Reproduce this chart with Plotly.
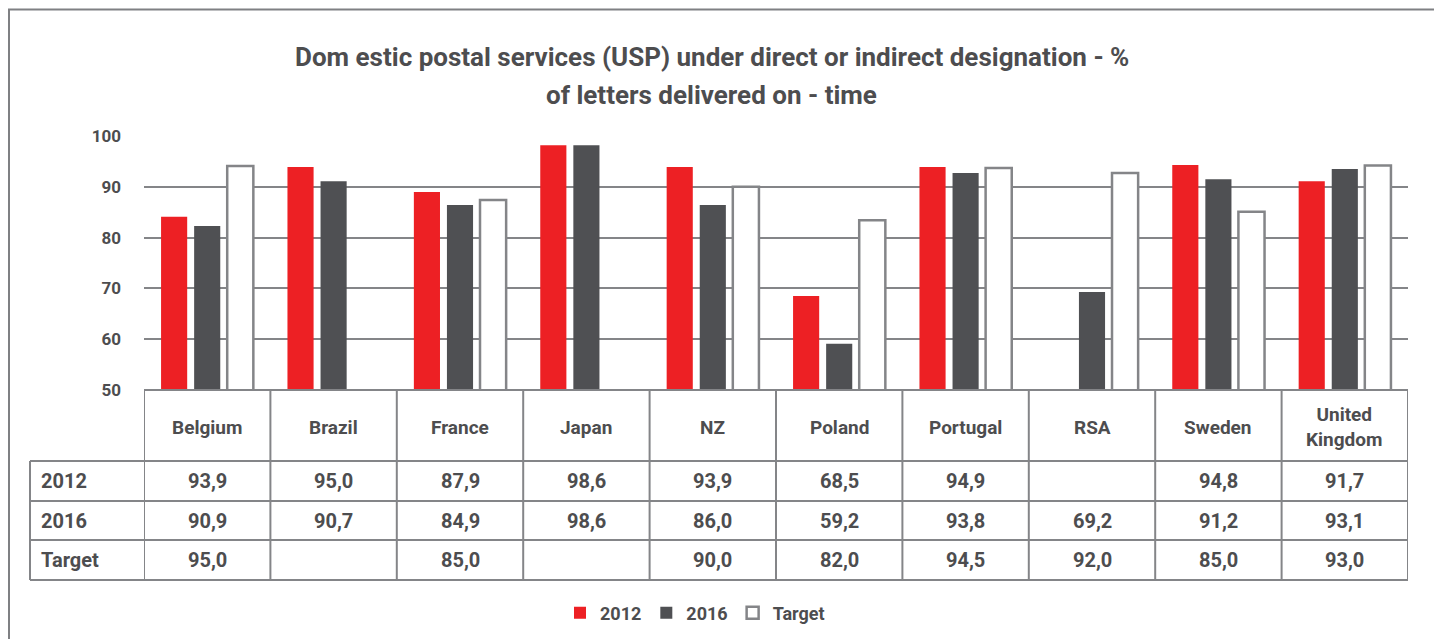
import plotly.graph_objects as go

# page body has an 8px margin: the figure is placed at (8, 8) in the window
OX, OY = 8, 8
W, H = 1434, 631

categories = ["Belgium", "Brazil", "France", "Japan", "NZ", "Poland",
              "Portugal", "RSA", "Sweden", "United Kingdom"]
header_labels = ["Belgium", "Brazil", "France", "Japan", "NZ", "Poland",
                 "Portugal", "RSA", "Sweden", "United<br>Kingdom"]

# bar heights as drawn in the chart
bar_2012 = [84.1, 93.9, 89.0, 98.2, 93.9, 68.5, 93.9, None, 94.3, 91.1]
bar_2016 = [82.3, 91.1, 86.4, 98.2, 86.4, 59.1, 92.7, 69.3, 91.5, 93.5]
bar_target = [94.1, None, 87.4, None, 90.0, 83.4, 93.7, 92.7, 85.1, 94.2]

# data table values
row_labels = ["2012", "2016", "Target"]
table_2012 = ["93,9", "95,0", "87,9", "98,6", "93,9", "68,5", "94,9", "", "94,8", "91,7"]
table_2016 = ["90,9", "90,7", "84,9", "98,6", "86,0", "59,2", "93,8", "69,2", "91,2", "93,1"]
table_target = ["95,0", "", "85,0", "", "90,0", "82,0", "94,5", "92,0", "85,0", "93,0"]

y_ticks = [50, 60, 70, 80, 90, 100]

FONT = "Roboto, Liberation Sans, sans-serif"
TXT = "#4d4d4f"
RED = "#ed2024"
DARK = "#4f5053"
GRID = "#848588"


def px(x):
    return (x - OX) / W


def py(y):
    return 1 - (y - OY) / H


fig = go.Figure()
fig.add_trace(go.Bar(name="2012", x=categories, y=bar_2012,
                     marker=dict(color=RED, line=dict(width=0))))
fig.add_trace(go.Bar(name="2016", x=categories, y=bar_2016,
                     marker=dict(color=DARK, line=dict(width=0))))
fig.add_trace(go.Bar(name="Target", x=categories, y=bar_target,
                     marker=dict(color="white", line=dict(color=GRID, width=2.5))))

shapes = []
# outer frame
shapes.append(dict(type="rect", xref="paper", yref="paper",
                   x0=px(9), x1=px(1435), y0=py(660), y1=py(9.5),
                   line=dict(color="#7f8083", width=2), fillcolor="rgba(0,0,0,0)"))

# table grid
rows_y = [390, 461, 501, 540, 580]
line_style = dict(color=GRID, width=2)
n = len(categories)
for i, yy in enumerate(rows_y):
    shapes.append(dict(type="line", xref="x", yref="paper",
                       x0=-0.5, x1=n - 0.5, y0=py(yy), y1=py(yy), line=line_style))
    if i > 0:
        shapes.append(dict(type="line", xref="paper", yref="paper",
                           x0=px(30), x1=px(145), y0=py(yy), y1=py(yy),
                           line=line_style))
for k in range(n + 1):
    shapes.append(dict(type="line", xref="x", yref="paper",
                       x0=k - 0.5, x1=k - 0.5, y0=py(390), y1=py(580),
                       line=line_style))
shapes.append(dict(type="line", xref="paper", yref="paper",
                   x0=px(30), x1=px(30), y0=py(461), y1=py(580), line=line_style))

annotations = []
title_font = dict(family=FONT, size=26, color=TXT, weight=700)
annotations.append(dict(xref="paper", yref="paper", x=px(712), y=py(57),
                        text="Dom estic postal services (USP) under direct or indirect designation - %",
                        showarrow=False, xanchor="center", yanchor="middle",
                        font=title_font))
annotations.append(dict(xref="paper", yref="paper", x=px(711), y=py(95),
                        text="of letters delivered on - time",
                        showarrow=False, xanchor="center", yanchor="middle",
                        font=title_font))

head_font = dict(family=FONT, size=19, color=TXT, weight=700)
cell_font = dict(family=FONT, size=20, color=TXT, weight=700)
for cat, lab in zip(categories, header_labels):
    annotations.append(dict(xref="x", yref="paper", x=cat, y=py(427), text=lab,
                            showarrow=False, xanchor="center", yanchor="middle",
                            font=head_font))
row_centers = [481, 521, 560]
for rl, vals, yc in zip(row_labels, [table_2012, table_2016, table_target], row_centers):
    annotations.append(dict(xref="paper", yref="paper", x=px(39), y=py(yc), text=rl,
                            showarrow=False, xanchor="left", yanchor="middle",
                            font=cell_font))
    for cat, v in zip(categories, vals):
        if v:
            annotations.append(dict(xref="x", yref="paper", x=cat, y=py(yc), text=v,
                                    showarrow=False, xanchor="center", yanchor="middle",
                                    font=cell_font))

fig.update_layout(
    width=W, height=H,
    margin=dict(l=0, r=0, t=0, b=0, autoexpand=False),
    paper_bgcolor="white", plot_bgcolor="white",
    barmode="group", bargap=0.215, bargroupgap=0.21,
    showlegend=True,
    legend=dict(orientation="h", x=px(695), y=py(613), xanchor="center", yanchor="middle",
                font=dict(family=FONT, size=18, color=TXT, weight=700),
                bgcolor="rgba(0,0,0,0)", itemwidth=30),
    xaxis=dict(domain=[px(144), px(1408)], showticklabels=False, showgrid=False,
               zeroline=False, showline=False, range=[-0.5, n - 0.5]),
    yaxis=dict(domain=[py(390), py(136)], range=[50, 100], tickvals=y_ticks,
               showgrid=True, gridcolor=GRID, gridwidth=2, zeroline=False, showline=False,
               ticks="", ticklabelstandoff=22,
               tickfont=dict(family=FONT, size=17, color=TXT, weight=700)),
    shapes=shapes,
    annotations=annotations,
)

fig.write_html("out.html")
